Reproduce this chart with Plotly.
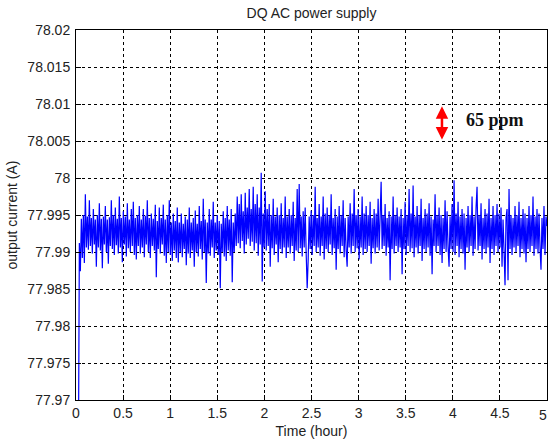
import numpy as np
import plotly.graph_objects as go

# ---- data ----
t_start = 0.025
t_end = 5.0

current = [
    77.9600, 77.9912, 77.9874, 77.9945, 77.9892, 77.9950, 77.9885, 77.9978, 77.9906, 77.9948,
    77.9903, 77.9970, 77.9908, 77.9946, 77.9898, 77.9958, 77.9910, 77.9944, 77.9880, 77.9950,
    77.9906, 77.9966, 77.9902, 77.9945, 77.9878, 77.9948, 77.9910, 77.9962, 77.9900, 77.9944,
    77.9884, 77.9947, 77.9908, 77.9970, 77.9904, 77.9950, 77.9896, 77.9960, 77.9909, 77.9945,
    77.9898, 77.9975, 77.9906, 77.9946, 77.9886, 77.9955, 77.9910, 77.9948, 77.9894, 77.9966,
    77.9905, 77.9944, 77.9900, 77.9958, 77.9908, 77.9968, 77.9896, 77.9946, 77.9890, 77.9950,
    77.9908, 77.9962, 77.9898, 77.9944, 77.9906, 77.9958, 77.9893, 77.9949, 77.9910, 77.9970,
    77.9900, 77.9946, 77.9892, 77.9952, 77.9908, 77.9945, 77.9902, 77.9964, 77.9866, 77.9942,
    77.9904, 77.9960, 77.9898, 77.9946, 77.9910, 77.9964, 77.9895, 77.9944, 77.9885, 77.9950,
    77.9900, 77.9970, 77.9896, 77.9940, 77.9888, 77.9952, 77.9902, 77.9942, 77.9892, 77.9960,
    77.9886, 77.9940, 77.9900, 77.9952, 77.9893, 77.9938, 77.9904, 77.9948, 77.9882, 77.9944,
    77.9898, 77.9960, 77.9892, 77.9940, 77.9902, 77.9946, 77.9880, 77.9956, 77.9900, 77.9938,
    77.9894, 77.9962, 77.9904, 77.9942, 77.9890, 77.9972, 77.9900, 77.9944, 77.9858, 77.9940,
    77.9898, 77.9958, 77.9895, 77.9944, 77.9906, 77.9968, 77.9892, 77.9940, 77.9902, 77.9950,
    77.9896, 77.9942, 77.9851, 77.9938, 77.9900, 77.9955, 77.9894, 77.9946, 77.9888, 77.9962,
    77.9902, 77.9944, 77.9895, 77.9958, 77.9859, 77.9940, 77.9900, 77.9952, 77.9908, 77.9975,
    77.9912, 77.9965, 77.9905, 77.9978, 77.9915, 77.9955, 77.9898, 77.9980, 77.9910, 77.9960,
    77.9918, 77.9985, 77.9908, 77.9958, 77.9914, 77.9988, 77.9902, 77.9965, 77.9912, 77.9978,
    77.9895, 77.9960, 77.9910, 78.0007, 77.9860, 77.9952, 77.9906, 77.9982, 77.9902, 77.9958,
    77.9908, 77.9965, 77.9880, 77.9950, 77.9905, 77.9972, 77.9896, 77.9948, 77.9910, 77.9960,
    77.9886, 77.9950, 77.9904, 77.9966, 77.9898, 77.9946, 77.9906, 77.9975, 77.9892, 77.9948,
    77.9906, 77.9958, 77.9898, 77.9950, 77.9908, 77.9968, 77.9888, 77.9946, 77.9902, 77.9985,
    77.9900, 77.9992, 77.9905, 77.9948, 77.9894, 77.9955, 77.9906, 77.9960, 77.9898, 77.9851,
    77.9890, 77.9948, 77.9904, 77.9956, 77.9896, 77.9950, 77.9908, 77.9988, 77.9900, 77.9946,
    77.9906, 77.9965, 77.9895, 77.9948, 77.9908, 77.9975, 77.9890, 77.9952, 77.9904, 77.9960,
    77.9900, 77.9950, 77.9910, 77.9978, 77.9896, 77.9946, 77.9905, 77.9958, 77.9876, 77.9948,
    77.9904, 77.9962, 77.9898, 77.9950, 77.9908, 77.9970, 77.9893, 77.9946, 77.9902, 77.9880,
    77.9948, 77.9906, 77.9966, 77.9898, 77.9952, 77.9908, 77.9985, 77.9900, 77.9950, 77.9905,
    77.9958, 77.9890, 77.9948, 77.9906, 77.9975, 77.9896, 77.9952, 77.9904, 77.9962, 77.9900,
    77.9950, 77.9908, 77.9968, 77.9884, 77.9946, 77.9905, 77.9958, 77.9898, 77.9952, 77.9906,
    77.9972, 77.9902, 77.9948, 77.9995, 77.9904, 77.9950, 77.9908, 77.9965, 77.9895, 77.9946,
    77.9906, 77.9955, 77.9862, 77.9948, 77.9904, 77.9975, 77.9898, 77.9950, 77.9908, 77.9960,
    77.9900, 77.9948, 77.9906, 77.9958, 77.9870, 77.9946, 77.9904, 77.9968, 77.9896, 77.9950,
    77.9908, 77.9985, 77.9900, 77.9952, 77.9905, 77.9990, 77.9893, 77.9948, 77.9906, 77.9962,
    77.9898, 77.9950, 77.9908, 77.9972, 77.9888, 77.9946, 77.9904, 77.9958, 77.9900, 77.9952,
    77.9906, 77.9966, 77.9895, 77.9948, 77.9870, 77.9944, 77.9908, 77.9978, 77.9900, 77.9950,
    77.9908, 77.9960, 77.9896, 77.9950, 77.9885, 77.9946, 77.9904, 77.9970, 77.9900, 77.9955,
    77.9906, 77.9880, 77.9948, 77.9904, 77.9965, 77.9900, 77.9997, 77.9896, 77.9952, 77.9908,
    77.9968, 77.9893, 77.9948, 77.9904, 77.9958, 77.9898, 77.9952, 77.9876, 77.9946, 77.9906,
    77.9962, 77.9900, 77.9950, 77.9908, 77.9975, 77.9895, 77.9948, 77.9904, 77.9960, 77.9988,
    77.9902, 77.9950, 77.9908, 77.9966, 77.9890, 77.9946, 77.9904, 77.9958, 77.9898, 77.9952,
    77.9906, 77.9972, 77.9885, 77.9946, 77.9904, 77.9962, 77.9896, 77.9950, 77.9908, 77.9965,
    77.9900, 77.9952, 77.9906, 77.9960, 77.9880, 77.9944, 77.9902, 77.9855, 77.9946, 77.9958,
    77.9862, 77.9985, 77.9904, 77.9950, 77.9896, 77.9946, 77.9906, 77.9962, 77.9900, 77.9950,
    77.9908, 77.9968, 77.9893, 77.9946, 77.9904, 77.9958, 77.9898, 77.9952, 77.9886, 77.9946,
    77.9904, 77.9962, 77.9900, 77.9950, 77.9908, 77.9975, 77.9895, 77.9948, 77.9904, 77.9958,
    77.9898, 77.9952, 77.9906, 77.9876, 77.9946, 77.9904, 77.9962, 77.9896, 77.9948, 77.9935,
]

time_h = np.linspace(t_start, t_end, len(current))

x_tick_vals = [0, 0.5, 1, 1.5, 2, 2.5, 3, 3.5, 4, 4.5, 5]
x_tick_text = ["0", "0.5", "1", "1.5", "2", "2.5", "3", "3.5", "4", "4.5", "5"]
y_tick_vals = [77.97, 77.975, 77.98, 77.985, 77.99, 77.995, 78.0, 78.005, 78.01, 78.015, 78.02]
y_tick_text = ["77.97", "77.975", "77.98", "77.985", "77.99", "77.995", "78", "78.005", "78.01", "78.015", "78.02"]

# annotation: 65 ppm band marker
arrow_x = 3.885
arrow_top = 78.0097
arrow_bottom = 78.0050
label_x = 4.45
label_y = 78.0078
label_text = "65 ppm"

FONT = "Liberation Sans, Arial, sans-serif"
TXT = "#222222"

fig = go.Figure()
fig.add_trace(go.Scatter(
    x=time_h, y=current, mode="lines",
    line=dict(color="#0000FF", width=1.2),
    showlegend=False, hoverinfo="skip",
))

axis_common = dict(
    showline=True, linecolor="black", linewidth=1, mirror=True,
    showgrid=True, gridcolor="black", gridwidth=1, griddash="3px,3px",
    ticks="inside", ticklen=5, tickcolor="black",
    zeroline=False,
    tickfont=dict(family=FONT, size=14, color=TXT),
)

fig.update_xaxes(
    range=[0, 5], tickvals=x_tick_vals, ticktext=x_tick_text,
    title=dict(text="Time (hour)", standoff=6, font=dict(family=FONT, size=14, color=TXT)),
    **axis_common,
)
fig.update_yaxes(
    range=[77.97, 78.02], tickvals=y_tick_vals, ticktext=y_tick_text,
    ticklabelstandoff=2,
    title=dict(text="output current (A)", standoff=6, font=dict(family=FONT, size=14, color=TXT)),
    **axis_common,
)

# the last x tick label sits on the right edge of the figure; Plotly drops it,
# so it is drawn as an annotation at the same tick value, nudged to stay visible
fig.add_annotation(
    x=x_tick_vals[-1], y=0, xref="x", yref="paper", yshift=-5, xshift=-4,
    text=x_tick_text[-1], showarrow=False, xanchor="center", yanchor="top",
    font=dict(family=FONT, size=14, color=TXT),
)

fig.add_annotation(
    x=arrow_x, y=arrow_top, ax=arrow_x, ay=arrow_bottom,
    xref="x", yref="y", axref="x", ayref="y",
    showarrow=True, arrowside="end+start", arrowhead=2, arrowsize=1,
    arrowwidth=2.5, arrowcolor="#FF0000", text="", standoff=0, startstandoff=0,
)
fig.add_annotation(
    x=label_x, y=label_y, xref="x", yref="y", showarrow=False,
    text="<b>" + label_text + "</b>",
    font=dict(family="Liberation Serif, Times New Roman, serif", size=18, color="#111111"),
    xanchor="center", yanchor="middle",
)

fig.update_layout(
    width=548, height=441,
    margin=dict(l=76, r=1, t=30, b=41, autoexpand=False),
    paper_bgcolor="white", plot_bgcolor="white",
    title=dict(text="DQ AC power supply", x=311.5 / 548, xanchor="center",
               y=1 - 13 / 441, yanchor="middle", yref="container",
               font=dict(family=FONT, size=14, color=TXT)),
)

fig.write_html(
    "out.html",
    config={"displayModeBar": False},
    post_script="document.body.style.margin='0';document.body.style.overflow='hidden';",
)
